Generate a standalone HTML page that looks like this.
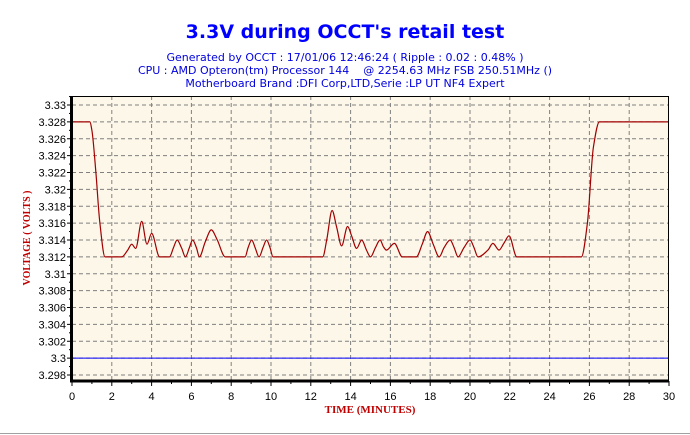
<!DOCTYPE html>
<html><head><meta charset="utf-8"><style>
body{margin:0;background:#fff;}
svg{display:block;font-family:"Liberation Sans",sans-serif;}
</style></head><body>
<svg width="690" height="435" viewBox="0 0 690 435">
<rect x="0" y="0" width="690" height="435" fill="#fff"/>
<line x1="0" y1="433.5" x2="690" y2="433.5" stroke="#a0a0a0"/>
<text x="345" y="38" text-anchor="middle" font-size="19" font-weight="bold" fill="#0000ff" font-family="DejaVu Sans, sans-serif">3.3V during OCCT's retail test</text>
<g font-family="DejaVu Sans, sans-serif" font-size="11" fill="#0000e0">
<text x="345" y="61" text-anchor="middle">Generated by OCCT : 17/01/06 12:46:24 ( Ripple : 0.02 : 0.48% )</text>
<text x="345" y="74" text-anchor="middle" xml:space="preserve">CPU : AMD Opteron(tm) Processor 144    @ 2254.63 MHz FSB 250.51MHz ()</text>
<text x="345" y="87" text-anchor="middle">Motherboard Brand :DFI Corp,LTD,Serie :LP UT NF4 Expert</text>
</g>
<rect x="72" y="96" width="597" height="285" fill="#fdf7e9"/>
<g id="grid"></g>
<g id="marks"></g>
<g id="axes"></g>
<text transform="translate(30,238) rotate(-90)" text-anchor="middle" font-size="10" font-weight="bold" fill="#c00000" font-family="Liberation Serif, serif">VOLTAGE ( VOLTS )</text>
<text x="370" y="413" text-anchor="middle" font-size="11" font-weight="bold" fill="#c00000" font-family="Liberation Serif, serif">TIME (MINUTES)</text>
</svg>
<script>
const xTicks=[0,2,4,6,8,10,12,14,16,18,20,22,24,26,28,30];
const yTicks=[3.298,3.3,3.302,3.304,3.306,3.308,3.31,3.312,3.314,3.316,3.318,3.32,3.322,3.324,3.326,3.328,3.33];
const yLabels=["3.298","3.3","3.302","3.304","3.306","3.308","3.31","3.312","3.314","3.316","3.318","3.32","3.322","3.324","3.326","3.328","3.33"];
const times=[0,0.9,1.0,1.2,1.4,1.66,2.5,2.8,3.0,3.2,3.5,3.77,4.0,4.4,4.9,5.1,5.28,5.5,5.7,5.9,6.06,6.25,6.4,6.7,7.0,7.3,7.7,8.7,8.85,9.03,9.2,9.4,9.6,9.78,9.95,10.1,12.6,12.8,13.07,13.3,13.55,13.85,14.05,14.3,14.56,14.8,15.0,15.25,15.48,15.65,15.8,16.2,16.6,17.3,17.6,17.87,18.15,18.45,18.7,19.0,19.2,19.4,19.7,20.0,20.2,20.4,20.9,21.15,21.46,21.7,21.96,22.35,25.6,25.9,26.2,26.5,30];
const volts=[3.328,3.328,3.327,3.322,3.316,3.312,3.312,3.3128,3.3135,3.313,3.3162,3.3135,3.3148,3.312,3.312,3.3131,3.314,3.3131,3.312,3.3131,3.314,3.3131,3.312,3.3138,3.3152,3.314,3.312,3.312,3.3131,3.314,3.3131,3.312,3.3131,3.314,3.3131,3.312,3.312,3.314,3.3175,3.3155,3.3133,3.3156,3.3145,3.313,3.314,3.3128,3.312,3.3131,3.314,3.3132,3.3128,3.3136,3.312,3.312,3.3135,3.315,3.3135,3.312,3.3131,3.314,3.3131,3.312,3.3131,3.314,3.3131,3.312,3.3128,3.3136,3.3128,3.3136,3.3145,3.312,3.312,3.316,3.325,3.328,3.328];
const refLine=[3.3];
const NS="http://www.w3.org/2000/svg";
const X0=72,X1=669,Y0=381,Y1=96;
function xs(t){return X0+(t-0)/(30-0)*(X1-X0);}
function ys(v){return 375+(v-3.298)/(3.33-3.298)*(105-375);}
function mk(tag,attrs,parent){const e=document.createElementNS(NS,tag);for(const k in attrs)e.setAttribute(k,attrs[k]);parent.appendChild(e);return e;}
const grid=document.getElementById('grid'),marks=document.getElementById('marks'),axes=document.getElementById('axes');
xTicks.forEach((t,i)=>{
  if(t>0&&t<30){const l=mk('line',{x1:xs(t),x2:xs(t),y1:Y1,y2:Y0,stroke:'#808080','stroke-dasharray':'4,3'},grid);
  
  }
  const tx=mk('text',{x:xs(t),y:400,'text-anchor':'middle','font-size':11,fill:'#000'},axes);
  tx.textContent=String(t);
  
  
  mk('line',{x1:xs(t),x2:xs(t),y1:Y0,y2:Y0+5,stroke:'#000'},axes);
  if(t<30){mk('line',{x1:xs(t+1),x2:xs(t+1),y1:Y0,y2:Y0+3,stroke:'#000'},axes);}
});
yTicks.forEach((v,i)=>{
  const l=mk('line',{x1:X0,x2:X1,y1:ys(v),y2:ys(v),stroke:'#808080','stroke-dasharray':'4,3'},grid);
  
  
  const tx=mk('text',{x:66,y:ys(v)+4,'text-anchor':'end','font-size':11,fill:'#000'},axes);
  tx.textContent=yLabels[i];
  
  
  mk('line',{x1:X0-5,x2:X0,y1:ys(v),y2:ys(v),stroke:'#000'},axes);
  mk('line',{x1:X0-3,x2:X0,y1:ys(v)+(ys(3.3)-ys(3.298))/2,y2:ys(v)+(ys(3.3)-ys(3.298))/2,stroke:'#000'},axes);
});
const ref=mk('line',{x1:X0,x2:X1,y1:ys(refLine[0]),y2:ys(refLine[0]),stroke:'#0000ff','stroke-width':1},marks);


// monotone cubic path
function monotonePath(px,py){
  const n=px.length,d=[],m=new Array(n).fill(0);
  for(let i=0;i<n-1;i++)d.push((py[i+1]-py[i])/(px[i+1]-px[i]));
  m[0]=d[0];m[n-1]=d[n-2];
  for(let i=1;i<n-1;i++){
    if(d[i-1]*d[i]<=0)m[i]=0;
    else{const w1=2*(px[i+1]-px[i])+(px[i]-px[i-1]),w2=(px[i+1]-px[i])+2*(px[i]-px[i-1]);
      m[i]=(w1+w2)/(w1/d[i-1]+w2/d[i]);}
  }
  let s='M'+px[0].toFixed(1)+','+py[0].toFixed(1);
  for(let i=0;i<n-1;i++){
    const h=(px[i+1]-px[i])/3;
    s+=' C'+(px[i]+h).toFixed(1)+','+(py[i]+m[i]*h).toFixed(1)+' '+(px[i+1]-h).toFixed(1)+','+(py[i+1]-m[i+1]*h).toFixed(1)+' '+px[i+1].toFixed(1)+','+py[i+1].toFixed(1);
  }
  return s;
}
const pl=mk('path',{d:monotonePath(times.map(xs),volts.map(ys)),fill:'none',stroke:'#a00000','stroke-width':1.2,'stroke-linejoin':'round'},marks);


mk('line',{x1:X0,x2:X1,y1:Y1+0.5,y2:Y1+0.5,stroke:'#000'},axes);
mk('line',{x1:X1-0.5,x2:X1-0.5,y1:Y1,y2:Y0,stroke:'#000'},axes);
mk('line',{x1:X0-0.5,x2:X0-0.5,y1:Y1,y2:Y0+1,stroke:'#000','stroke-width':3},axes);
mk('line',{x1:X0-2,x2:X1,y1:Y0,y2:Y0,stroke:'#000','stroke-width':3},axes);
</script>
</body></html>
